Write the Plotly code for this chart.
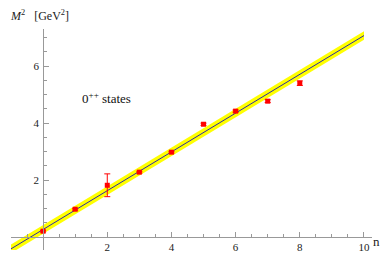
import plotly.graph_objects as go

# data
n_vals = [0, 1, 2, 3, 4, 5, 6, 7, 8]
m2_vals = [0.21, 0.98, 1.82, 2.28, 2.98, 3.96, 4.42, 4.77, 5.40]
m2_err = [0.03, 0.03, 0.40, 0.03, 0.03, 0.04, 0.04, 0.05, 0.08]
fit_n = [-1.0, 10.0]
fit_m2 = [-0.41, 7.07]
band_half = [0.15, 0.15]
x_ticks = [2, 4, 6, 8, 10]
y_ticks = [2, 4, 6]

OFF = 8  # page body margin
W, H = 390 - 2 * OFF, 256 - OFF
# plot area in window pixels: x 11..372, y 29..250
xr = [-1.0, 10.25]
yr = [-0.45, 7.3]
L, T = 11 - OFF, 29 - OFF
R, B = W - (372 - OFF), H - (250 - OFF)

fig = go.Figure()
fig.add_trace(go.Scatter(x=fit_n, y=[a - b for a, b in zip(fit_m2, band_half)],
                         mode="lines", line=dict(width=0), showlegend=False, hoverinfo="skip"))
fig.add_trace(go.Scatter(x=fit_n, y=[a + b for a, b in zip(fit_m2, band_half)],
                         mode="lines", line=dict(width=0), fill="tonexty",
                         fillcolor="#ffff00", showlegend=False, hoverinfo="skip"))
fig.add_trace(go.Scatter(x=fit_n, y=fit_m2, mode="lines",
                         line=dict(color="#2a2aa8", width=1), showlegend=False))
fig.add_trace(go.Scatter(x=n_vals, y=m2_vals, mode="markers",
                         marker=dict(symbol="square", size=5, color="#ff0000"),
                         error_y=dict(type="data", array=m2_err, color="#ff0000",
                                      thickness=1, width=3),
                         showlegend=False))

xpos = (0 - yr[0]) / (yr[1] - yr[0])
ypos = (0 - xr[0]) / (xr[1] - xr[0])
FAM = "Liberation Serif, Times New Roman, serif"
font = dict(family=FAM, size=11, color="#222")

# window pixel -> paper coords
pw, ph = W - L - R, H - T - B
def px(xp):
    return (xp - OFF - L) / pw
def py(yp):
    return (H - B - (yp - OFF)) / ph

fig.update_layout(
    width=W, height=H,
    margin=dict(l=L, r=R, t=T, b=B),
    paper_bgcolor="white", plot_bgcolor="white",
    font=dict(family=FAM),
    xaxis=dict(range=xr, anchor="free", position=xpos, showgrid=False, zeroline=False,
               automargin=False,
               showline=True, linecolor="#999", linewidth=1,
               tickmode="array", tickvals=x_ticks, ticks="inside",
               ticklen=5, tickcolor="#999", tickfont=font,
               minor=dict(tickmode="linear", tick0=0, dtick=0.5, ticks="inside",
                          ticklen=3, tickcolor="#999")),
    yaxis=dict(range=yr, anchor="free", position=ypos, showgrid=False, zeroline=False,
               automargin=False,
               showline=True, linecolor="#999", linewidth=1,
               tickmode="array", tickvals=y_ticks, ticks="inside",
               ticklen=5, tickcolor="#999", tickfont=font, ticklabelstandoff=2,
               minor=dict(tickmode="linear", tick0=0, dtick=0.5, ticks="inside",
                          ticklen=3, tickcolor="#999")),
    annotations=[
        dict(x=px(8), y=py(15), xref="paper", yref="paper", xanchor="left", yanchor="middle",
             text="<i>M</i><sup>2</sup>   [GeV<sup>2</sup>]", showarrow=False,
             font=dict(family=FAM, size=12, color="#222")),
        dict(x=px(382), y=py(241), xref="paper", yref="paper", xanchor="right", yanchor="middle",
             text="n", showarrow=False,
             font=dict(family=FAM, size=13, color="#222")),
        dict(x=px(80), y=py(98), xref="paper", yref="paper", xanchor="left", yanchor="middle",
             text="0<sup>++</sup> states", showarrow=False,
             font=dict(family=FAM, size=13, color="#111")),
    ],
)
fig.write_html("out.html")
